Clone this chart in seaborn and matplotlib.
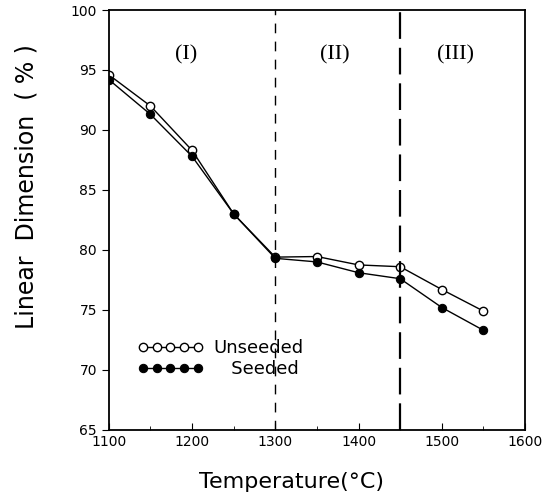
import matplotlib
matplotlib.use("Agg")
import matplotlib.pyplot as plt
import seaborn as sns
import pandas as pd
from matplotlib.ticker import MultipleLocator

temperature = [1100, 1150, 1200, 1250, 1300, 1350, 1400, 1450, 1500, 1550]
unseeded = [94.6, 92.0, 88.3, 83.0, 79.4, 79.45, 78.75, 78.6, 76.7, 74.9]
seeded = [94.2, 91.3, 87.8, 83.0, 79.3, 79.0, 78.1, 77.6, 75.2, 73.3]
region_labels = ["(I)", "(II)", "(III)"]
region_x = [1193, 1372, 1517]
boundaries = [1300, 1450]

sns.set_style("ticks")
plt.rcParams['font.family'] = ['DejaVu Sans']
plt.rcParams.update({"text.color": "black", "axes.labelcolor": "black",
                     "xtick.color": "black", "ytick.color": "black"})

fig = plt.figure(figsize=(5.58, 5.01), dpi=100)
ax = fig.add_axes([0.195, 0.142, 0.746, 0.838])

df = pd.DataFrame({"T": temperature * 2,
                   "v": unseeded + seeded,
                   "s": ["Unseeded"] * len(temperature) + ["Seeded"] * len(temperature)})

sns.lineplot(data=df[df.s == "Unseeded"], x="T", y="v", ax=ax, color="black", lw=1.0,
             marker="o", markersize=6, markerfacecolor="white", markeredgecolor="black",
             markeredgewidth=1.0, label="Unseeded")
sns.lineplot(data=df[df.s == "Seeded"], x="T", y="v", ax=ax, color="black", lw=1.0,
             marker="o", markersize=6, markerfacecolor="black", markeredgecolor="black",
             label="   Seeded")

for b, lw, ls in zip(boundaries, [1.0, 1.6], [(0, (7, 6)), (0, (12, 4))]):
    ax.axvline(b, color="black", lw=lw, ls=ls)

for lab, x in zip(region_labels, region_x):
    ax.text(x, 96.3, lab, ha="center", va="center", fontsize=16, family="Liberation Serif")

ax.set_xlim(1100, 1600)
ax.set_ylim(65, 100)
ax.xaxis.set_major_locator(MultipleLocator(100))
ax.xaxis.set_minor_locator(MultipleLocator(50))
ax.yaxis.set_major_locator(MultipleLocator(5))
ax.tick_params(axis="x", direction="in", which="both", labelsize=10, length=5, pad=4)
ax.tick_params(axis="x", which="minor", length=3)
ax.tick_params(axis="y", direction="out", labelsize=10, length=5)
for sp in ax.spines.values():
    sp.set_linewidth(1.3)
    sp.set_color("black")

ax.set_xlabel("Temperature(°C)", fontsize=16)
ax.xaxis.set_label_coords(0.44, -0.10)
ax.set_ylabel("Linear  Dimension  ( % )", fontsize=17)
ax.yaxis.set_label_coords(-0.17, 0.58)

ax.legend(loc="center left", bbox_to_anchor=(0.07, 0.17), frameon=False, numpoints=5,
          handlelength=3.6, fontsize=13, handletextpad=0.6, labelspacing=0.15,
          borderaxespad=0, borderpad=0)

fig.savefig("out.png", dpi=100)
